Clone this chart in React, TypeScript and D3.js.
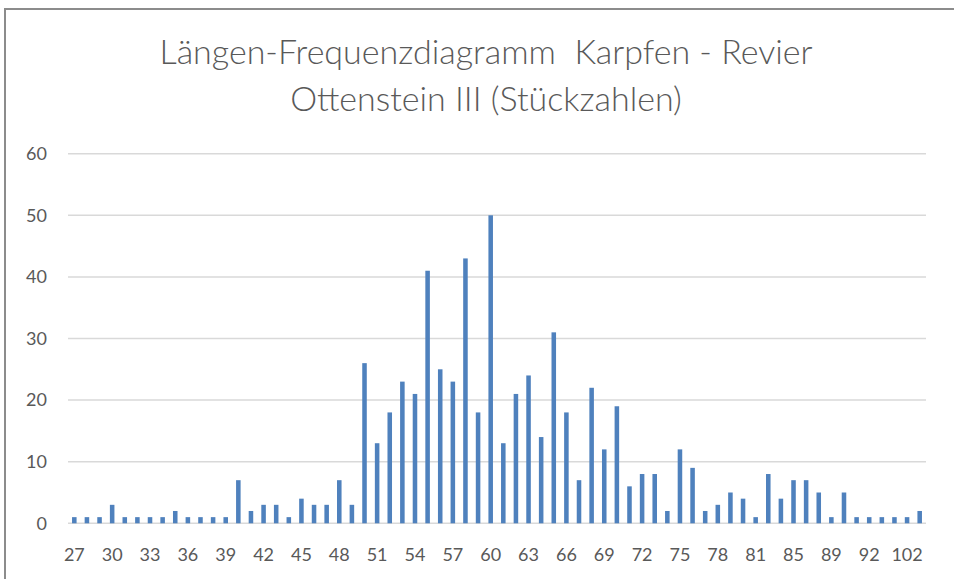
import { useEffect, useRef } from 'react';
import * as d3 from 'd3';

// Length classes (cm) and counts
const lengths = [
  '27', '28', '29', '30', '31', '32', '33', '34', '35', '36',
  '37', '38', '39', '40', '41', '42', '43', '44', '45', '46',
  '47', '48', '49', '50', '51', '52', '53', '54', '55', '56',
  '57', '58', '59', '60', '61', '62', '63', '64', '65', '66',
  '67', '68', '69', '70', '71', '72', '73', '74', '75', '76',
  '77', '78', '79', '80', '81', '82', '84', '85', '86', '87',
  '89', '90', '91', '92', '93', '95', '102', '105',
];
const counts = [
  1, 1, 1, 3, 1, 1, 1, 1, 2, 1,
  1, 1, 1, 7, 2, 3, 3, 1, 4, 3,
  3, 7, 3, 26, 13, 18, 23, 21, 41, 25,
  23, 43, 18, 50, 13, 21, 24, 14, 31, 18,
  7, 22, 12, 19, 6, 8, 8, 2, 12, 9,
  2, 3, 5, 4, 1, 8, 4, 7, 7, 5,
  1, 5, 1, 1, 1, 1, 1, 2,
];
const yTicks = [0, 10, 20, 30, 40, 50, 60];
const titleLines = ['Längen-Frequenzdiagramm  Karpfen - Revier', 'Ottenstein III (Stückzahlen)'];

const W = 954;
const H = 579;

export default function App() {
  const svgRef = useRef<SVGSVGElement>(null);

  useEffect(() => {
    if (!svgRef.current) return;
    const svg = d3.select(svgRef.current);
    svg.selectAll('*').remove();

    const margin = { top: 153.7, right: 28, bottom: 55.7, left: 68 };
    const innerW = W - margin.left - margin.right;
    const innerH = H - margin.top - margin.bottom;

    const data = lengths.map((l, i) => ({ l, v: counts[i] }));

    const x = d3.scaleBand<string>()
      .domain(lengths)
      .range([0, innerW])
      .paddingInner(0.64)
      .paddingOuter(0.32);

    const y = d3.scaleLinear().domain([0, 60]).range([innerH, 0]);

    const font = 'Lato, "Open Sans", sans-serif';
    const textColor = '#595959';

    svg.append('rect').attr('width', W).attr('height', H).attr('fill', '#fff');

    // chart frame (cropped: only top and left edges show)
    svg.append('path')
      .attr('d', `M5,${H} V9 H${W}`)
      .attr('fill', 'none')
      .attr('stroke', '#8c8c8c')
      .attr('stroke-width', 2);

    // title
    svg.append('g')
      .selectAll('text')
      .data(titleLines)
      .enter()
      .append('text')
      .attr('x', 486)
      .attr('y', (_d, i) => 64 + i * 47)
      .attr('text-anchor', 'middle')
      .attr('font-family', font)
      .attr('font-size', 34)
      .attr('font-weight', 300)
      .attr('fill', textColor)
      .style('white-space', 'pre')
      .text(d => d);

    const g = svg.append('g').attr('transform', `translate(${margin.left},${margin.top})`);

    // grid lines
    g.append('g')
      .selectAll('line')
      .data(yTicks)
      .enter()
      .append('line')
      .attr('x1', 0)
      .attr('x2', innerW)
      .attr('y1', d => y(d))
      .attr('y2', d => y(d))
      .attr('stroke', '#d9d9d9')
      .attr('stroke-width', 1.5);

    // y labels
    g.append('g')
      .selectAll('text')
      .data(yTicks)
      .enter()
      .append('text')
      .attr('x', -21)
      .attr('y', d => y(d))
      .attr('dy', '0.35em')
      .attr('text-anchor', 'end')
      .attr('font-family', font)
      .attr('font-size', 18)
      .attr('fill', textColor)
      .text(d => d);

    // bars
    g.append('g')
      .selectAll('rect')
      .data(data)
      .enter()
      .append('rect')
      .attr('x', d => x(d.l)!)
      .attr('width', x.bandwidth())
      .attr('y', d => y(d.v))
      .attr('height', d => y(0) - y(d.v))
      .attr('fill', '#4f81bd');

    // x labels, every third category
    g.append('g')
      .selectAll('text')
      .data(lengths.filter((_d, i) => i % 3 === 0))
      .enter()
      .append('text')
      .attr('x', d => x(d)! + x.bandwidth() / 2)
      .attr('y', innerH + 38)
      .attr('text-anchor', 'middle')
      .attr('font-family', font)
      .attr('font-size', 18)
      .attr('fill', textColor)
      .text(d => d);
  }, []);

  return (
    <div style={{ position: 'absolute', left: 0, top: 0 }}>
      <svg ref={svgRef} width={W} height={H} style={{ display: 'block' }} />
    </div>
  );
}
